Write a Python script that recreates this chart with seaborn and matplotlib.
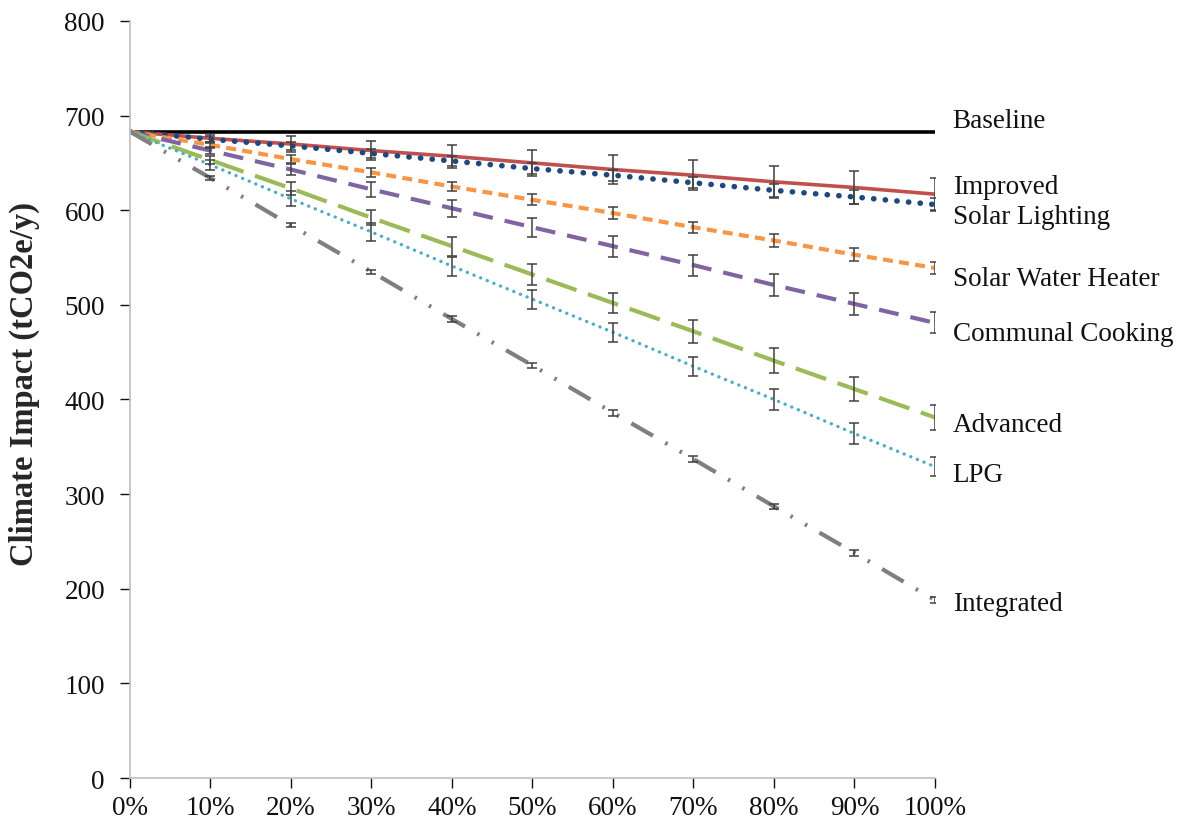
import matplotlib
matplotlib.use("Agg")
import matplotlib.pyplot as plt
import seaborn as sns
import pandas as pd

x_pct = [0, 10, 20, 30, 40, 50, 60, 70, 80, 90, 100]
x_labels = ["0%", "10%", "20%", "30%", "40%", "50%", "60%", "70%", "80%", "90%", "100%"]

baseline = [683, 683, 683, 683, 683, 683, 683, 683, 683, 683, 683]
improved = [683, 676, 670, 663, 657, 650, 643, 637, 630, 624, 617]
solar_lighting = [683, 675, 668, 660, 652, 644, 637, 629, 621, 614, 606]
solar_water = [683, 669, 654, 640, 625, 611, 597, 582, 568, 553, 539]
communal = [683, 663, 643, 622, 602, 582, 562, 542, 521, 501, 481]
advanced = [683, 653, 623, 592, 562, 532, 502, 472, 441, 411, 381]
lpg = [683, 648, 612, 577, 541, 506, 471, 435, 400, 364, 329]
integrated = [683, 634, 584, 535, 485, 436, 386, 337, 287, 238, 188]

err_improved = [0, 5, 8, 10, 12, 14, 15, 16, 17, 17, 17]
err_solar_lighting = [0, 3, 4, 5, 5, 6, 6, 6, 7, 7, 7]
err_solar_water = [0, 3, 4, 5, 5, 6, 6, 6, 7, 7, 6]
err_communal = [0, 4, 6, 8, 9, 10, 11, 11, 12, 12, 11]
err_advanced = [0, 4, 7, 8, 10, 11, 11, 12, 13, 13, 13]
err_lpg = [0, 5, 8, 10, 10, 10, 10, 10, 11, 11, 10]
err_integrated = [0, 2, 2, 2, 3, 3, 3, 3, 3, 3, 3]

names = ["Baseline", "Improved", "Solar Lighting", "Solar Water Heater",
         "Communal Cooking", "Advanced", "LPG", "Integrated"]
label_values = [695, 625, 593, 528, 470, 374, 321, 184]

sns.set_theme(style="white")
plt.rcParams['font.family'] = ['Liberation Serif', 'DejaVu Serif']

fig = plt.figure(figsize=(11.85, 8.29), dpi=100)
ax = fig.add_axes([0.1097, 0.0603, 0.789 - 0.1097, 0.9735 - 0.0603])

series = [
    ("Baseline", baseline, None, dict(color="#000000", lw=2.6, linestyle="-")),
    ("Improved", improved, err_improved, dict(color="#C0504D", lw=2.6, linestyle="-")),
    ("Solar Lighting", solar_lighting, err_solar_lighting,
     dict(color="#1F497D", lw=4.0, dashes=(0.05, 2.05), dash_capstyle="round")),
    ("Solar Water Heater", solar_water, err_solar_water,
     dict(color="#F79646", lw=3.0, dashes=(2.4, 1.5))),
    ("Communal Cooking", communal, err_communal,
     dict(color="#8064A2", lw=3.0, dashes=(4.8, 2.9))),
    ("Advanced", advanced, err_advanced,
     dict(color="#9BBB59", lw=3.0, dashes=(7.7, 2.9))),
    ("LPG", lpg, err_lpg,
     dict(color="#4BACC6", lw=2.4, dashes=(0.05, 2.1), dash_capstyle="round")),
    ("Integrated", integrated, err_integrated,
     dict(color="#7F7F7F", lw=3.0, dashes=(6.0, 3.4, 0.6, 3.4, 0.6, 3.4))),
]

for name, vals, errs, style in series:
    sns.lineplot(x=x_pct, y=vals, ax=ax, legend=False, **style)
    if errs is not None:
        ax.errorbar(x_pct[1:], vals[1:], yerr=errs[1:], fmt="none",
                    ecolor="#404040", elinewidth=1.1, capsize=3.5, capthick=1.1, zorder=5)

for name, yv in zip(names, label_values):
    ax.text(102.2, yv, name, fontsize=19.5, va="center", ha="left",
            clip_on=False, color="#111111")

ax.set_xlim(0, 100)
ax.set_ylim(0, 800)
ax.set_xticks(x_pct)
ax.set_xticklabels(x_labels)
ax.set_yticks(range(0, 801, 100))
ax.tick_params(axis="both", labelsize=19.5, colors="#111111", length=7,
               width=1, direction="out", bottom=True, left=True)
for t in ax.get_xticklines() + ax.get_yticklines():
    t.set_color("#A6A6A6")
ax.tick_params(axis="x", pad=5)
ax.tick_params(axis="y", pad=11)
sns.despine(ax=ax)
for s in ["left", "bottom"]:
    ax.spines[s].set_color("#BFBFBF")
    ax.spines[s].set_linewidth(1.2)
ax.set_ylabel("Climate Impact (tCO2e/y)", fontsize=23.5, fontweight="bold",
              va="center")
ax.yaxis.set_label_coords(-0.131, 0.522)
ax.set_xlabel("")

fig.savefig("out.png", dpi=100, facecolor="white")
